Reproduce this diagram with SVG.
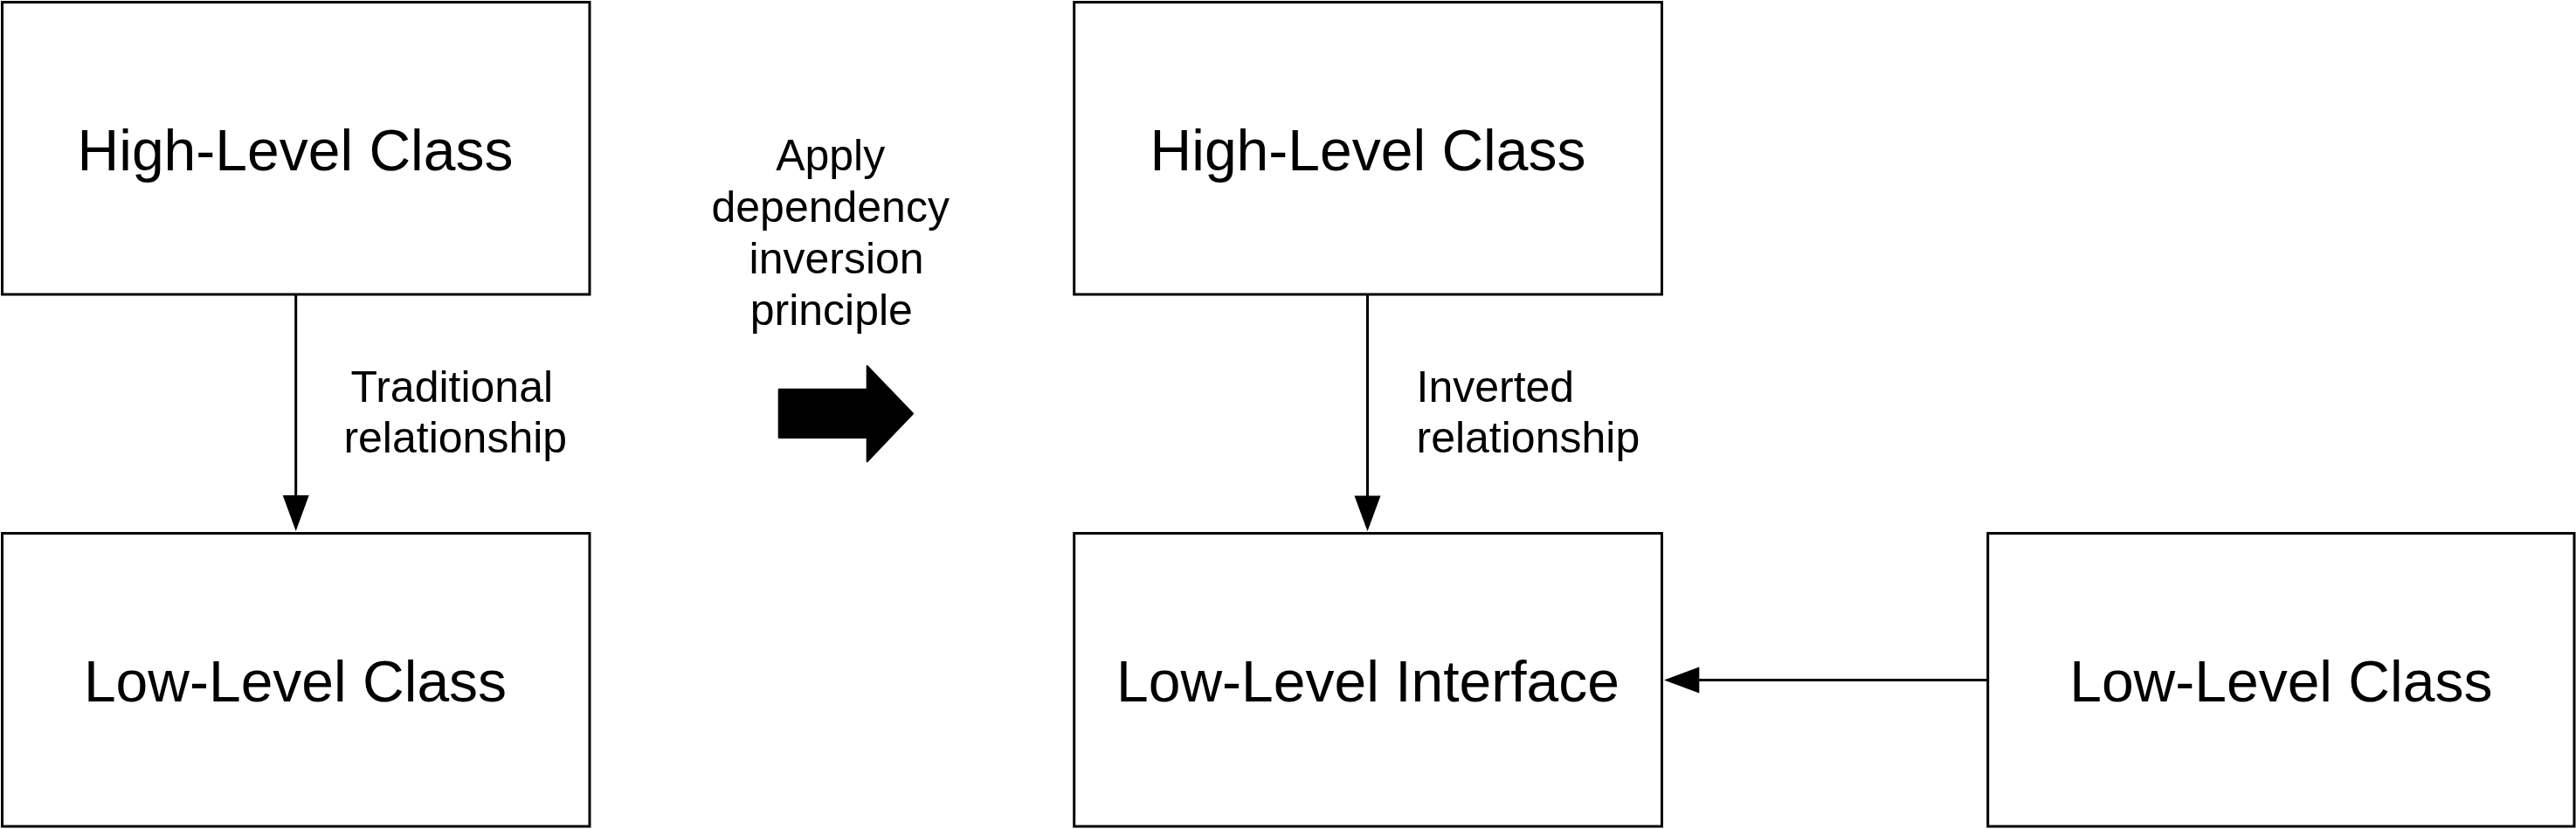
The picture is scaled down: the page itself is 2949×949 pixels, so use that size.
<svg xmlns="http://www.w3.org/2000/svg" width="2949" height="949" viewBox="0 0 2949 949">
  <style>
    .box { fill: #ffffff; stroke: #000000; stroke-width: 3; }
    .title { font-family: "Liberation Sans", Arial, sans-serif; font-size: 66px; fill: #000000; text-anchor: middle; }
    .label { font-family: "Liberation Sans", Arial, sans-serif; font-size: 50px; fill: #000000; }
    .mid { text-anchor: middle; }
    .edge { stroke: #000000; stroke-width: 3; fill: none; }
    .head { fill: #000000; stroke: none; }
  </style>
  <rect x="0" y="0" width="2949" height="949" fill="#ffffff"/>

  <g id="connectors">
    <line class="edge" x1="338.7" y1="337" x2="338.7" y2="568"/>
    <polygon class="head" points="323.7,567 353.7,567 338.7,608"/>
    <line class="edge" x1="1565.5" y1="337" x2="1565.5" y2="568"/>
    <polygon class="head" points="1550.5,567.5 1580.5,567.5 1565.5,608.3"/>
    <line class="edge" x1="2275.7" y1="778.5" x2="1944" y2="778.5"/>
    <polygon class="head" points="1945.3,763.5 1945.3,793.5 1905,778.5"/>
    <text class="label" x="401.5" y="460">Traditional</text>
    <text class="label" x="393.4" y="518.3">relationship</text>
    <text class="label" x="1621.5" y="460">Inverted</text>
    <text class="label" x="1621.5" y="518.3">relationship</text>
  </g>

  <g id="transform">
    <text class="label mid" x="950.7" y="195">Apply</text>
    <text class="label mid" x="950.7" y="254">dependency</text>
    <text class="label mid" x="957.6" y="313">inversion</text>
    <text class="label mid" x="951.8" y="372">principle</text>
    <polygon points="891.7,445.7 992.7,445.7 992.7,419 1045,473.5 992.7,528.3 992.7,501 891.7,501" fill="#000000" stroke="#000000" stroke-width="2" stroke-linejoin="round"/>
  </g>

  <g id="high-level-class-left">
    <rect class="box" x="2.5" y="2.5" width="672.5" height="334.5"/>
    <text class="title" x="338" y="195">High-Level Class</text>
  </g>
  <g id="low-level-class-left">
    <rect class="box" x="2.5" y="610.5" width="672.5" height="335.5"/>
    <text class="title" x="338" y="802.5">Low-Level Class</text>
  </g>
  <g id="high-level-class-right">
    <rect class="box" x="1229.7" y="2.5" width="672.8" height="334.5"/>
    <text class="title" x="1566" y="195">High-Level Class</text>
  </g>
  <g id="low-level-interface">
    <rect class="box" x="1229.7" y="610.5" width="672.8" height="335.5"/>
    <text class="title" x="1566" y="802.5">Low-Level Interface</text>
  </g>
  <g id="low-level-class-right">
    <rect class="box" x="2275.7" y="610.5" width="671.3" height="335.5"/>
    <text class="title" x="2611.3" y="802.5">Low-Level Class</text>
  </g>
</svg>
